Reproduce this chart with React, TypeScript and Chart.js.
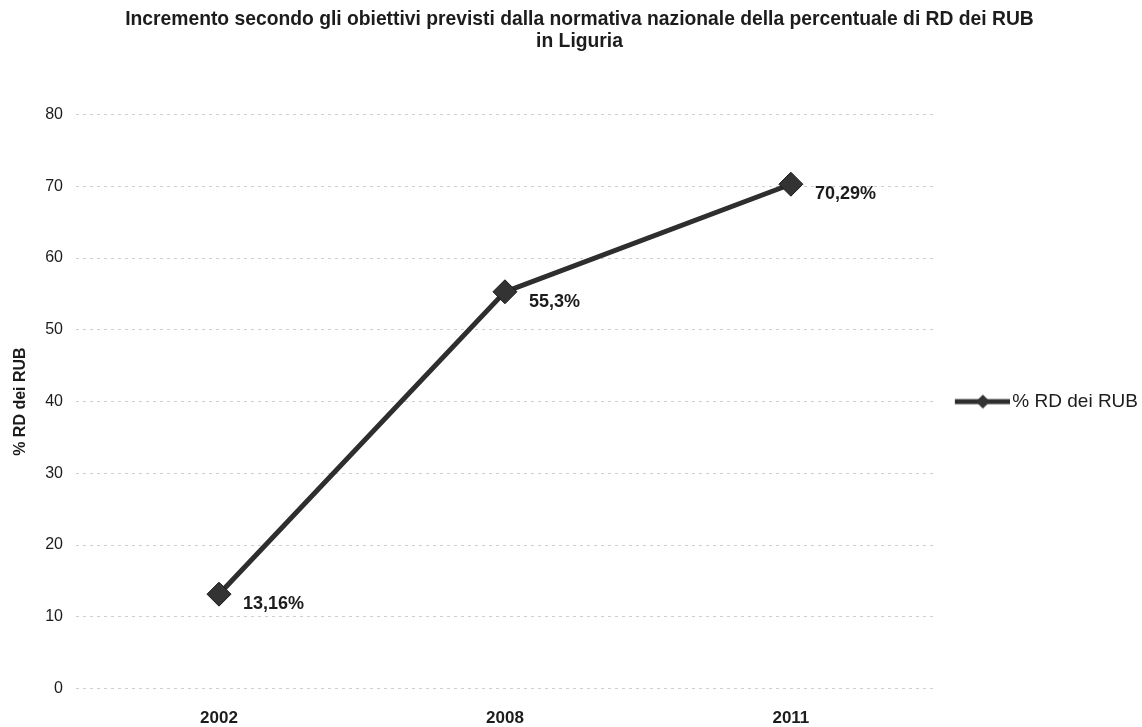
import React, { useEffect, useRef } from "react";
import { Chart, registerables } from "chart.js";

Chart.register(...registerables);

const titleLines = [
  "Incremento secondo gli obiettivi previsti dalla normativa nazionale della percentuale di RD dei RUB",
  "in Liguria",
];
const years = ["2002", "2008", "2011"];
const seriesLabel = "% RD dei RUB";
const rdValues = [13.16, 55.3, 70.29];
const yAxisTitle = "% RD dei RUB";

const FONT = "'Liberation Sans', Arial, sans-serif";
const INK = "#1c1c1c";
const LINE = "#2e2e2e";

function makeLegendIcon(): HTMLCanvasElement {
  const c = document.createElement("canvas");
  c.width = 63;
  c.height = 16;
  const ctx = c.getContext("2d")!;
  ctx.strokeStyle = LINE;
  ctx.lineWidth = 5;
  ctx.beginPath();
  ctx.moveTo(8, 8);
  ctx.lineTo(63, 8);
  ctx.stroke();
  ctx.fillStyle = "#333";
  ctx.beginPath();
  ctx.moveTo(36, 1);
  ctx.lineTo(43, 8);
  ctx.lineTo(36, 15);
  ctx.lineTo(29, 8);
  ctx.closePath();
  ctx.fill();
  return c;
}

const dataLabelPlugin = {
  id: "dataLabels",
  afterDatasetsDraw(chart: any) {
    const ctx = chart.ctx;
    const meta = chart.getDatasetMeta(0);
    const ds = chart.data.datasets[0];
    ctx.save();
    ctx.font = `bold 18px ${FONT}`;
    ctx.fillStyle = INK;
    ctx.textAlign = "left";
    ctx.textBaseline = "middle";
    meta.data.forEach((pt: any, i: number) => {
      const v = ds.data[i] as number;
      const txt = String(v).replace(".", ",") + "%";
      ctx.fillText(txt, pt.x + 24, pt.y + 10);
    });
    ctx.restore();
  },
};

export default function App() {
  const ref = useRef<HTMLCanvasElement>(null);

  useEffect(() => {
    document.body.style.margin = "0";
    const icon = makeLegendIcon();
    const chart = new Chart(ref.current!, {
      type: "line",
      data: {
        labels: years,
        datasets: [
          {
            label: seriesLabel,
            data: rdValues,
            borderColor: LINE,
            borderWidth: 5,
            backgroundColor: "#333",
            pointStyle: "rectRot",
            pointRadius: 12,
            pointHoverRadius: 12,
            pointBackgroundColor: "#333",
            pointBorderColor: "#1a1a1a",
            pointBorderWidth: 1,
            tension: 0,
          },
        ],
      },
      options: {
        animation: false,
        responsive: false,
        maintainAspectRatio: false,
        layout: { padding: { left: 11, right: -6, top: 0, bottom: -22 } },
        plugins: {
          title: {
            display: true,
            text: titleLines,
            color: INK,
            font: { family: FONT, size: 19.3, weight: "bold", lineHeight: 1.18 },
            padding: { top: 8, bottom: 61 },
          },
          legend: {
            position: "right",
            fullSize: false,
            labels: {
              usePointStyle: true,
              pointStyleWidth: 49,
              padding: 20,
              color: INK,
              font: { family: FONT, size: 19 },
              generateLabels: (c: any) => {
                const items = Chart.defaults.plugins.legend.labels.generateLabels(c);
                return items.map((it: any) => ({ ...it, pointStyle: icon }));
              },
            },
          },
          tooltip: { enabled: false },
        },
        scales: {
          x: {
            offset: true,
            grid: { display: false, drawTicks: false },
            border: { display: false },
            ticks: {
              color: INK,
              padding: 20,
              font: { family: FONT, size: 17, weight: "bold" },
            },
          },
          y: {
            min: 0,
            max: 80,
            ticks: {
              stepSize: 10,
              color: INK,
              padding: 13,
              font: { family: FONT, size: 16 },
            },
            grid: {
              color: "#cfcfcf",
              lineWidth: 1,
              drawTicks: false,
            },
            border: { display: false, dash: [3, 4] },
            title: {
              display: true,
              text: yAxisTitle,
              color: INK,
              font: { family: FONT, size: 16, weight: "bold" },
              padding: { top: 0, bottom: 2 },
            },
          },
        },
      },
      plugins: [dataLabelPlugin],
    });
    return () => chart.destroy();
  }, []);

  return (
    <div style={{ width: 1142, height: 727 }}>
      <canvas ref={ref} width={1142} height={727} style={{ display: "block" }} />
    </div>
  );
}
